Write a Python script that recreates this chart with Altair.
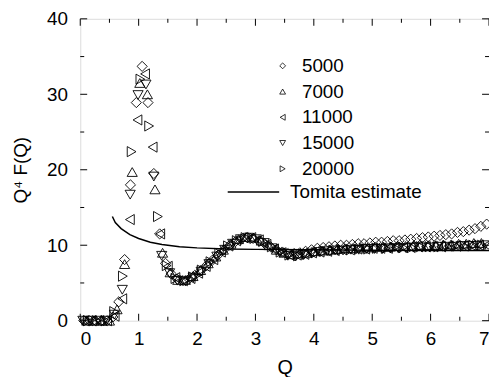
import altair as alt
import pandas as pd

# ---- data ----
series_names = ["5000", "7000", "11000", "15000", "20000"]
series_shapes = ["diamond", "triangle-up", "triangle-left", "triangle-down", "triangle-right"]

# each series is sampled on its own regular Q grid: Q = q_start + n * q_step
q_start = {"5000": 0.06, "7000": 0.11, "11000": 0.07, "15000": 0.045, "20000": 0.13}
q_step = {"5000": 0.10, "7000": 0.13, "11000": 0.13, "15000": 0.135, "20000": 0.15}

vals_5000 = [0, 0, 0, 0, 0, 0.5, 2.5, 8.1, 18.0, 28.9, 33.7, 28.9, 19.5, 11.5, 7.6,
             6.2, 5.5, 5.3, 5.5, 6.0, 6.6, 7.3, 8.0, 8.7, 9.4, 10.0, 10.5, 10.8, 11.0,
             10.9, 10.6, 10.2, 9.8, 9.4, 9.1, 8.9, 8.9, 9.0, 9.2, 9.4, 9.6, 9.7, 9.8,
             9.9, 10.0, 10.0, 10.1, 10.2, 10.2, 10.3, 10.4, 10.4, 10.5, 10.6, 10.6,
             10.7, 10.8, 10.9, 11.0, 11.1, 11.2, 11.3, 11.4, 11.5, 11.7, 11.8, 12.0,
             12.2, 12.5, 12.8]
vals_7000 = [0, 0, 0, 0, 1.5, 7.5, 19.7, 31.5, 30.0, 17.4, 9.0, 6.4, 5.4, 5.4, 5.9,
             6.7, 7.6, 8.5, 9.4, 10.2, 10.8, 11.1, 11.0, 10.6, 10.0, 9.4, 9.0, 8.8,
             8.9, 9.0, 9.2, 9.3, 9.4, 9.5, 9.6, 9.6, 9.7, 9.7, 9.8, 9.8, 9.8, 9.9,
             9.9, 9.9, 10.0, 10.0, 10.0, 10.1, 10.1, 10.2, 10.2, 10.3, 10.3]
vals_11000 = [0, 0, 0, 0, 0.6, 2.9, 13.4, 26.6, 32.7, 23.0, 11.5, 7.2, 5.7, 5.3, 5.6,
              6.3, 7.2, 8.1, 9.1, 9.9, 10.6, 11.0, 11.0, 10.7, 10.1, 9.5, 9.0, 8.7,
              8.7, 8.8, 9.0, 9.1, 9.2, 9.3, 9.4, 9.4, 9.5, 9.5, 9.6, 9.6, 9.6, 9.7,
              9.7, 9.7, 9.8, 9.8, 9.8, 9.8, 9.9, 9.9, 9.9, 10.0, 10.0, 10.0]
vals_15000 = [0, 0, 0, 0, 0.8, 4.1, 16.7, 29.9, 31.3, 19.1, 8.6, 6.3, 5.3, 5.2, 5.7,
              6.5, 7.5, 8.5, 9.4, 10.2, 10.8, 11.0, 10.8, 10.3, 9.6, 9.0, 8.6, 8.5,
              8.7, 8.9, 9.1, 9.2, 9.3, 9.3, 9.4, 9.4, 9.5, 9.5, 9.5, 9.6, 9.6, 9.6,
              9.7, 9.7, 9.7, 9.8, 9.8, 9.8, 9.9, 9.9, 9.9, 10.0]
vals_20000 = [0, 0, 0, 1.2, 5.9, 22.4, 32.0, 25.8, 13.8, 7.3, 5.6, 5.3, 5.8, 6.7, 7.8,
              8.9, 9.9, 10.6, 11.0, 10.9, 10.5, 9.8, 9.1, 8.7, 8.6, 8.8, 9.0, 9.2,
              9.3, 9.4, 9.4, 9.5, 9.5, 9.6, 9.6, 9.7, 9.7, 9.7, 9.8, 9.8, 9.8, 9.9,
              9.9, 9.9, 10.0, 10.0]

# Tomita estimate curve
tomita_q = [0.55, 0.6, 0.7, 0.85, 1.0, 1.2, 1.4, 1.7, 2.0, 2.5, 3.0, 4.0, 5.0, 6.0, 7.0]
tomita_v = [13.8, 13.0, 12.2, 11.4, 10.9, 10.4, 10.1, 9.8, 9.65, 9.5, 9.45, 9.4, 9.35, 9.3, 9.3]

x_major = [0, 1, 2, 3, 4, 5, 6, 7]
x_minor = [0.5, 1.5, 2.5, 3.5, 4.5, 5.5, 6.5]
y_major = [0, 10, 20, 30, 40]
y_minor = [5, 15, 25, 35]

# ---- build tables ----
all_vals = {"5000": vals_5000, "7000": vals_7000, "11000": vals_11000,
            "15000": vals_15000, "20000": vals_20000}
rows = []
for name in series_names:
    for n, v in enumerate(all_vals[name]):
        rows.append({"Q": round(q_start[name] + n * q_step[name], 4), "v": v, "t": name})
pts = pd.DataFrame(rows)
tom = pd.DataFrame({"Q": tomita_q, "v": tomita_v})

W, H = 413, 305
FONT = "Liberation Sans"

xs = alt.Scale(domain=[0, 7], nice=False, zero=False)
ys = alt.Scale(domain=[0, 40], nice=False, zero=False)

x_axis = alt.Axis(values=x_major, format="d", ticks=False, domain=False, grid=False,
                  labelFontSize=19, labelPadding=9, labelColor="black", labelFont=FONT,
                  title="Q", titleFontSize=20, titleFont=FONT, titleFontWeight="normal",
                  titleColor="black", titlePadding=9)
y_axis = alt.Axis(values=y_major, format="d", ticks=False, domain=False, grid=False,
                  labelFontSize=19, labelPadding=13, labelColor="black", labelFont=FONT,
                  title="Q\u2074 F(Q)", titleFontSize=19, titleFont=FONT,
                  titleFontWeight="normal", titleColor="black", titlePadding=16)

points = alt.Chart(pts).mark_point(filled=False, size=105, strokeWidth=0.9, color="black", opacity=1).encode(
    x=alt.X("Q:Q", scale=xs, axis=x_axis),
    y=alt.Y("v:Q", scale=ys, axis=y_axis),
    shape=alt.Shape("t:N", scale=alt.Scale(domain=series_names, range=series_shapes),
                    legend=alt.Legend(orient="none", legendX=195, legendY=38, title=None,
                                      labelFontSize=19, labelFont=FONT, labelColor="black",
                                      symbolSize=35, symbolStrokeWidth=0.8,
                                      symbolStrokeColor="black", symbolFillColor="white",
                                      rowPadding=6, labelOffset=10, padding=0)),
)

line = alt.Chart(tom).mark_line(color="black", strokeWidth=1.5).encode(
    x=alt.X("Q:Q", scale=xs), y=alt.Y("v:Q", scale=ys))

# legend entry for the line
leg = pd.DataFrame({"label": ["Tomita estimate"]})
leg_line = alt.Chart(leg).mark_rule(color="black", strokeWidth=1.5).encode(
    x=alt.value(149), x2=alt.value(201), y=alt.value(175))
leg_text = alt.Chart(leg).mark_text(align="left", baseline="middle", fontSize=19,
                                    font=FONT, color="black").encode(
    x=alt.value(212), y=alt.value(175), text="label:N")

# inward ticks on all four sides
xmaj = pd.DataFrame({"Q": x_major})
xmin = pd.DataFrame({"Q": x_minor})
ymaj = pd.DataFrame({"v": y_major})
ymin = pd.DataFrame({"v": y_minor})

def xticks(df, length):
    b = alt.Chart(df).mark_rule(color="black", strokeWidth=1).encode(
        x=alt.X("Q:Q", scale=xs), y=alt.value(H), y2=alt.value(H - length))
    t = alt.Chart(df).mark_rule(color="black", strokeWidth=1).encode(
        x=alt.X("Q:Q", scale=xs), y=alt.value(0), y2=alt.value(length))
    return b + t

def yticks(df, length):
    l = alt.Chart(df).mark_rule(color="black", strokeWidth=1).encode(
        y=alt.Y("v:Q", scale=ys), x=alt.value(0), x2=alt.value(length))
    r = alt.Chart(df).mark_rule(color="black", strokeWidth=1).encode(
        y=alt.Y("v:Q", scale=ys), x=alt.value(W), x2=alt.value(W - length))
    return l + r

chart = alt.layer(
    xticks(xmaj, 7), xticks(xmin, 4), yticks(ymaj, 7), yticks(ymin, 4),
    line, points, leg_line, leg_text,
).properties(
    width=W, height=H,
    autosize=alt.AutoSizeParams(type="none"),
    padding={"left": 73, "top": 9, "right": 0, "bottom": 60},
).configure_view(stroke="black", strokeWidth=1).configure(background="white")

chart.save("out.html", embed_options={"renderer": "svg", "actions": False})
